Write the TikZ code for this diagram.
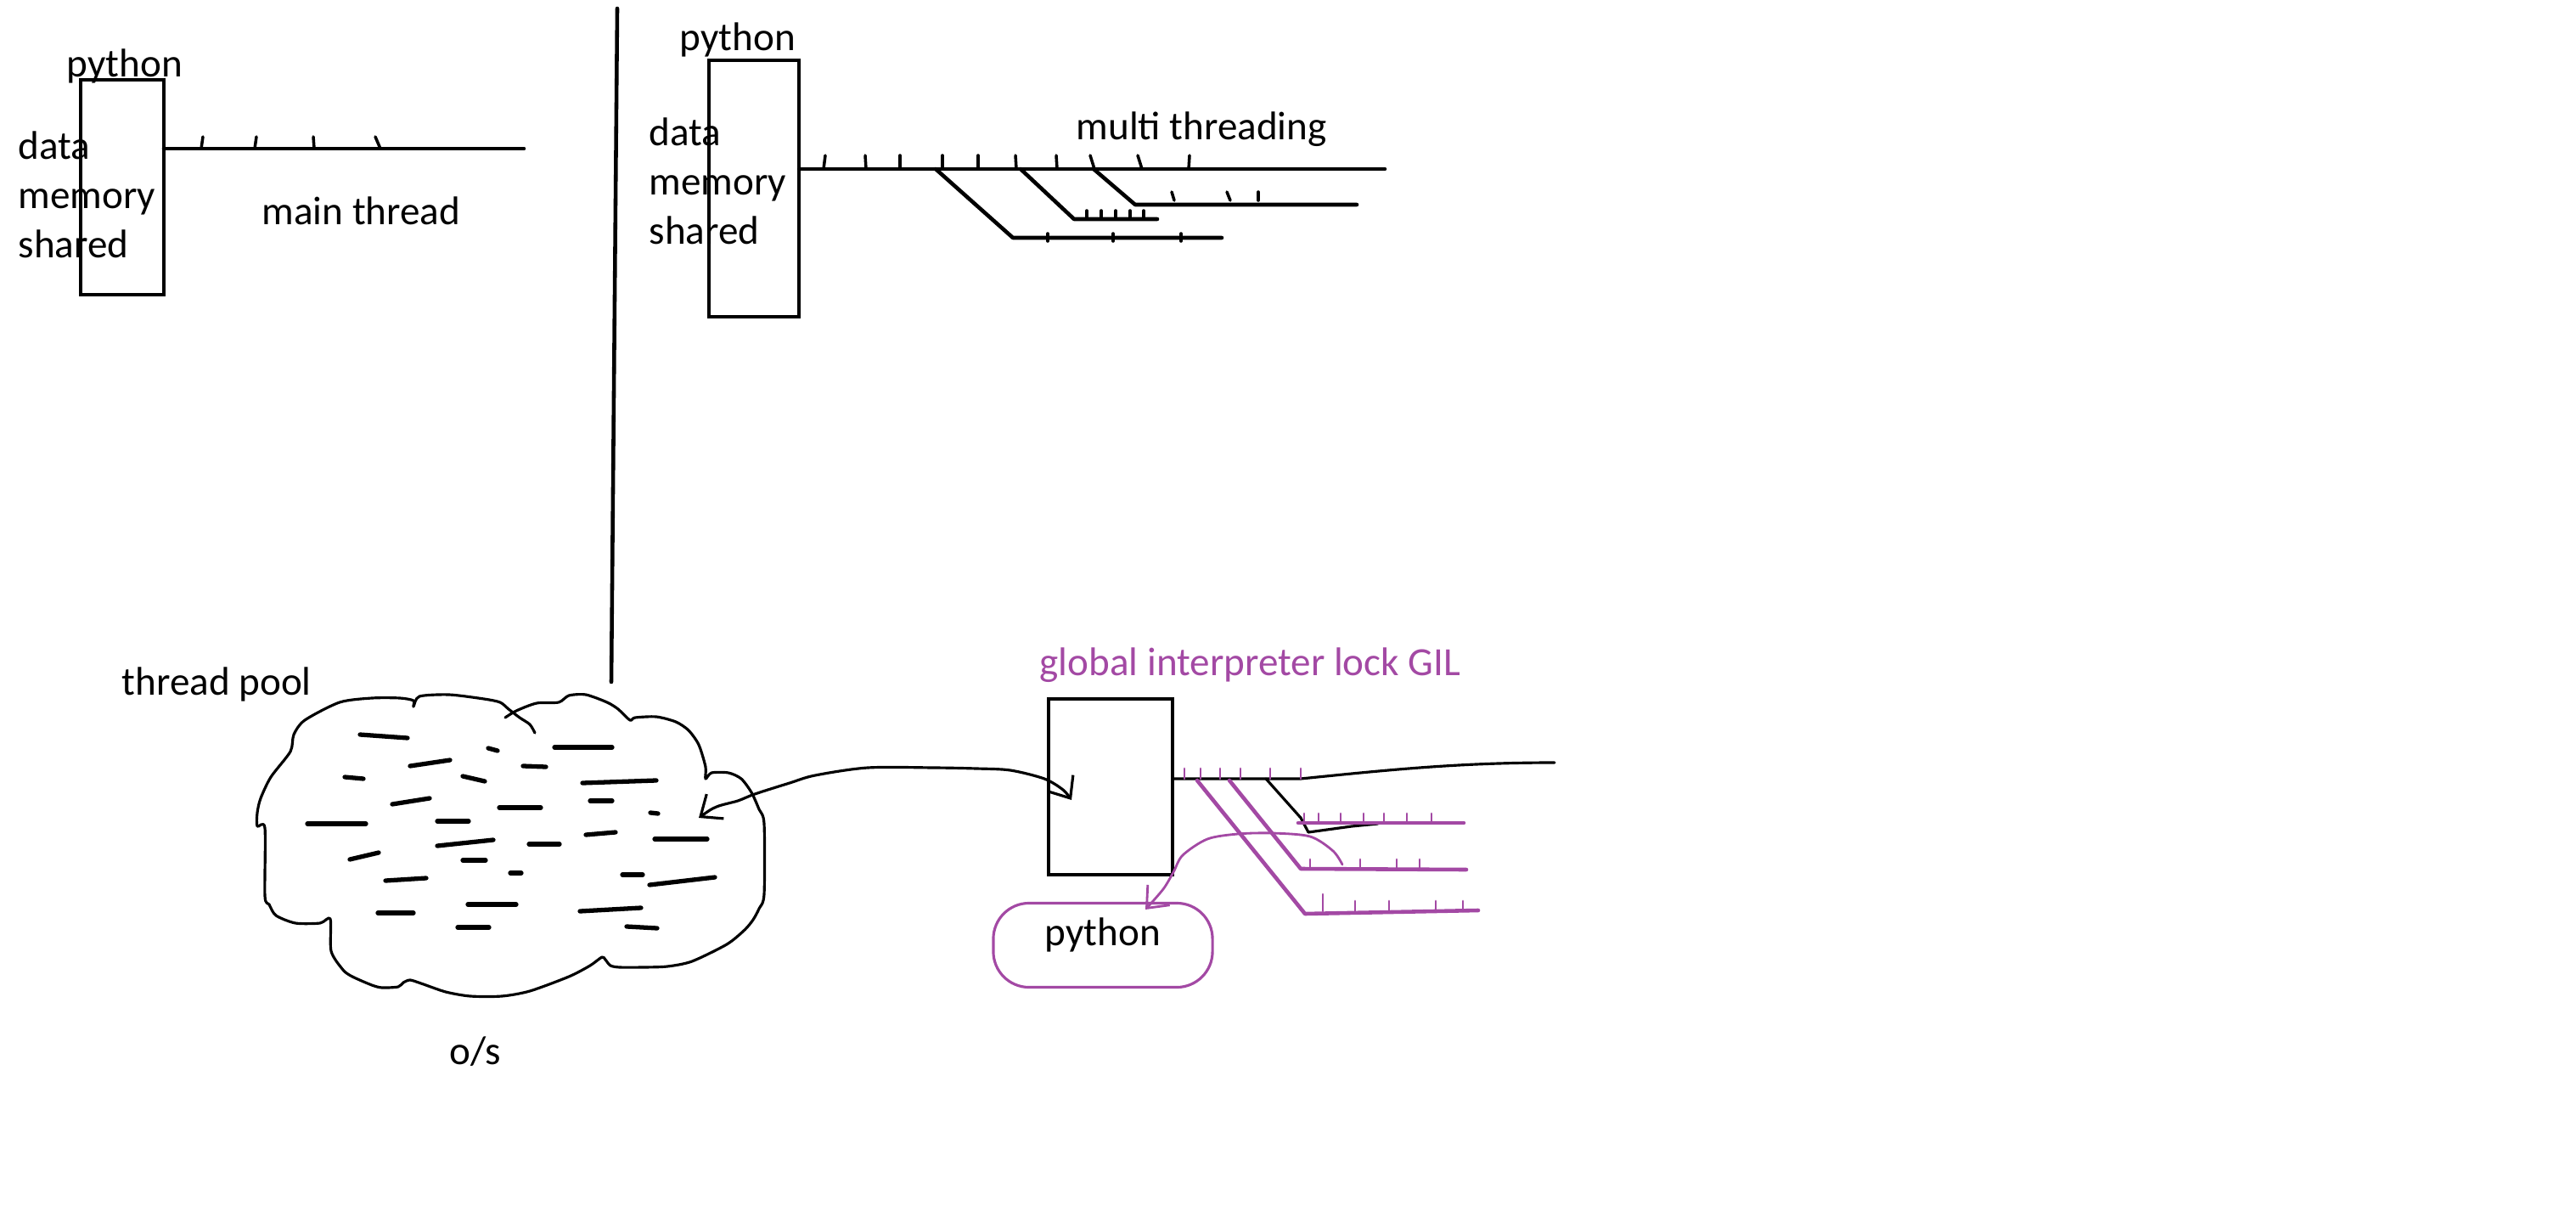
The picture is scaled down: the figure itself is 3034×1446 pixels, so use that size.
\documentclass[tikz,border=0pt]{standalone}
\usepackage{fontspec}
\setmainfont{Carlito}
\usepackage{tikz}
\usetikzlibrary{arrows.meta}
\definecolor{gilpurple}{RGB}{163,73,164}
\tikzset{
  txt/.style={inner sep=0pt, anchor=base west, align=left, font=\fontsize{13.4}{16.6}\selectfont},
  box/.style={draw, line width=1.3pt, inner sep=0pt, outer sep=0pt},
  thread/.style={line width=1.3pt, line cap=round, line join=round},
  thinline/.style={line width=0.9pt, line cap=round, line join=round},
  tickmark/.style={line width=1pt, line cap=round},
  poolbar/.style={line width=1.5pt, line cap=round},
  gilthread/.style={gilpurple, line width=1.3pt, line cap=round, line join=round},
  giltick/.style={gilpurple, line width=0.8pt, line cap=round},
  blob/.style={draw=gilpurple, line width=0.9pt, rounded corners=0.42cm, inner sep=0pt, outer sep=0pt}
}

\begin{document}
\begin{tikzpicture}[x=0.01cm, y=-0.01cm, >={Straight Barb[length=6pt, width=10pt]}]
  \useasboundingbox (0,0) rectangle (3034,1446);

  % Nodes
  \node[box, minimum width=0.98cm, minimum height=2.53cm] (box1) at (144,220.5) {};
  \node[box, minimum width=1.06cm, minimum height=3.02cm] (box2) at (888,222) {};
  \node[box, minimum width=1.46cm, minimum height=2.07cm] (box3) at (1308,926.5) {};
  \node[blob, minimum width=2.58cm, minimum height=0.99cm] (pyblob) at (1299,1113) {};

  \node[txt] (py1) at (78,91) {python};
  \node[txt] (mem1) at (21,304) {data\\memory\\shared};
  \node[txt] (mainlbl) at (308,265) {main thread};
  \node[txt] (py2) at (800,60) {python};
  \node[txt] (mem2) at (764,288) {data\\memory\\shared};
  \node[txt] (mtlbl) at (1267,165) {multi threading};
  \node[txt] (poollbl) at (143,818) {thread pool};
  \node[txt] (oslbl) at (529,1253) {o/s};
  \node[txt, text=gilpurple] (gillbl) at (1224,795) {global interpreter lock GIL};
  \node[txt] (py3) at (1230,1113) {python};

  \coordinate (mainend) at (617,175);
  \coordinate (mtend) at (1631,199);
  \coordinate (gilfork) at (1532,917);
  \coordinate (gilend) at (1831,898);
  \coordinate (poolin) at (823,963);
  \coordinate (gilin) at (1262,942);
  \coordinate (pytip) at (1349,1071);

  % divider
  \draw[thread] (727,10) -- (720,803);

  % main thread
  \draw[thread] (box1.east |- mainend) -- (mainend);
  \foreach \x/\s in {237/2, 300/2, 370/-1, 448/-6}
    \draw[tickmark] (\x,175) -- ++(\s,-14);

  % multi threading
  \draw[thread] (box2.east |- mtend) -- (mtend);
  \draw[thread] (1102,199) -- (1193,280) -- (1439,280);
  \draw[thread] (1202,199) -- (1265,258) -- (1363,258);
  \draw[thread] (1288,199) -- (1337,241) -- (1598,241);
  \foreach \x/\s in {970/2, 1020/-1, 1060/0, 1110/0, 1152/0, 1197/-1, 1245/-1, 1289/-5, 1345/-5, 1400/1}
    \draw[tickmark] (\x,199) -- ++(\s,-16);
  \foreach \x in {1234, 1311, 1391}
    \draw[tickmark] (\x,284) -- ++(0,-9);
  \foreach \x in {1280, 1297, 1314, 1331, 1347}
    \draw[tickmark] (\x,258) -- ++(0,-10);
  \foreach \x/\s in {1383/-3, 1449/-4, 1482/0}
    \draw[tickmark] (\x,236) -- ++(\s,-10);

  % thread pool cloud
  \draw[thinline] plot[smooth, tension=0.45] coordinates {
    (595,845) (608,837) (632,828) (658,827) (670,819) (690,818) (715,827) (728,835)
    (742,848) (748,845) (773,844) (796,850) (811,860) (823,877) (831,903) (831,917)
    (838,910) (858,910) (873,917) (885,933) (894,953) (900,970) (900,1053) (894,1070)
    (887,1083) (877,1095) (856,1112) (815,1132) (786,1138) (757,1139) (730,1139)
    (719,1137) (713,1130) (709,1127) (695,1137) (670,1150) (624,1167) (591,1173)
    (554,1173) (525,1168) (496,1158) (483,1154) (475,1157) (469,1162) (450,1163)
    (438,1160) (415,1150) (404,1142) (390,1120) (389,1082) (377,1087) (348,1087)
    (325,1078) (317,1065) (312,1055) (312,975) (303,973) (303,957) (307,940) (319,915)
    (342,885) (346,865) (359,848) (400,827) (438,822) (471,822) (487,825) (487,832)
    (494,820) (529,818) (570,823) (589,827) (599,835) (612,845) (624,853) (630,863)};
  \foreach \a/\b/\c/\d in {424/865/480/869, 575/881/586/884, 653/880/721/880, 483/902/530/895,
      616/902/643/903, 406/915/428/917, 545/914/571/920, 686/922/773/919, 462/947/506/940,
      588/951/637/951, 695/943/721/943, 766/957/775/958, 362/970/431/970, 515/967/552/967,
      690/983/725/980, 771/988/833/988, 515/996/581/989, 623/994/659/994, 412/1012/446/1004,
      545/1013/572/1013, 601/1028/614/1028, 733/1030/757/1030, 454/1037/502/1034,
      765/1042/842/1033, 551/1065/608/1065, 445/1075/487/1075, 683/1073/755/1069,
      539/1092/576/1092, 738/1091/774/1093}
    \draw[poolbar] (\a,\b) -- (\c,\d);

  % pool <-> interpreter
  \draw[thinline, <->] plot[smooth, tension=0.5] coordinates {
    (poolin) (844,950) (869,943) (889,935) (930,922) (960,913) (1022,904) (1100,904)
    (1150,905) (1190,907) (1230,917) (1252,930) (gilin)};

  % GIL threads
  \draw[thinline] (box3.east |- gilfork) -- (gilfork) .. controls (1640,906) and (1720,898) .. (gilend);
  \draw[thinline] (1491,917) -- (1532,963) -- (1541,980) -- (1592,973) -- (1623,970);
  \draw[gilthread] (1529,969) -- (1724,969);
  \draw[gilthread] (1448,919) -- (1532,1023) -- (1727,1024);
  \draw[gilthread] (1410,919) -- (1537,1076) -- (1741,1072);
  \foreach \x in {1395, 1414, 1437, 1461, 1496, 1532}
    \draw[giltick] (\x,917) -- ++(0,-12);
  \foreach \x in {1536, 1553, 1579, 1606, 1630, 1657, 1686}
    \draw[giltick] (\x,969) -- ++(0,-11);
  \foreach \x in {1543, 1602, 1645, 1672}
    \draw[giltick] (\x,1023) -- ++(0,-11);
  \foreach \x/\h in {1558/20, 1596/12, 1636/12, 1691/12, 1723/12}
    \draw[giltick] (\x,1073) -- ++(0,-\h);

  % GIL -> python
  \draw[giltick, ->] plot[smooth, tension=0.5] coordinates {
    (1581,1018) (1570,1002) (1543,985) (1498,981) (1458,982) (1422,988) (1393,1007)
    (1382,1027) (1370,1047) (pytip)};
\end{tikzpicture}
\end{document}
